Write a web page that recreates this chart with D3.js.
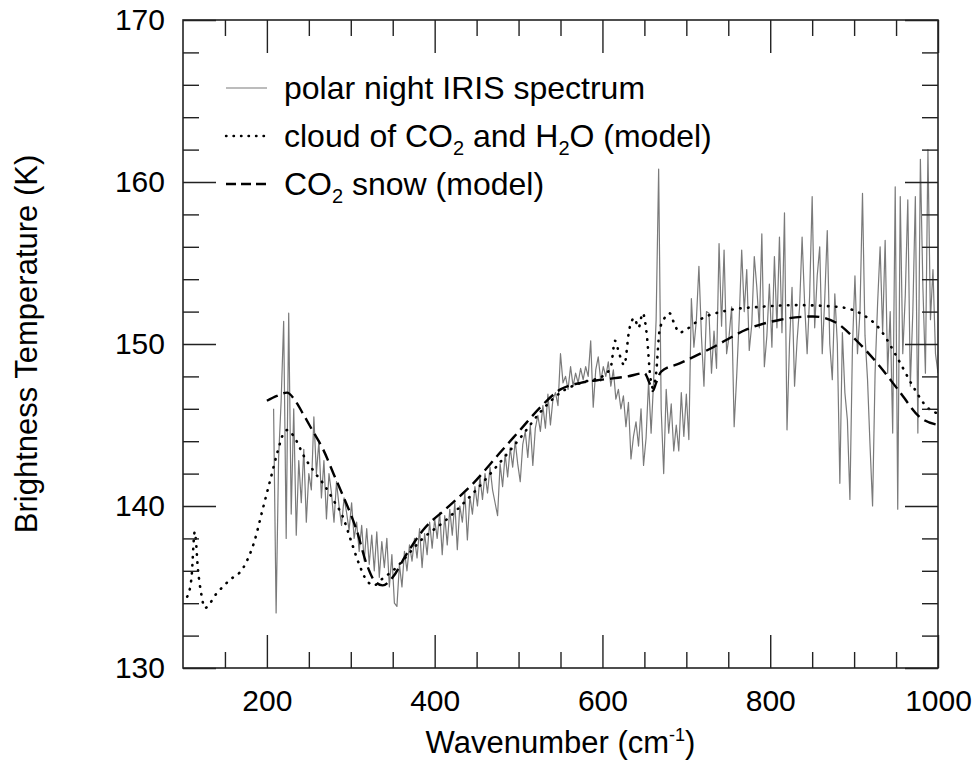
<!DOCTYPE html>
<html>
<head>
<meta charset="utf-8">
<script src="https://cdn.jsdelivr.net/npm/d3@7"></script>
<style>
  html, body { margin: 0; padding: 0; background: #fff; }
  svg text { font-family: "Liberation Sans", Arial, Helvetica, sans-serif; fill: #000; }
</style>
</head>
<body>
<svg id="chart" width="975" height="764"></svg>
<script>
// ---------------- DATA ----------------
// IRIS polar-night spectrum, sampled every 3 cm-1 from 208 to 1000 cm-1
const spectrumStart = 208;
const spectrumStep = 3;
const spectrumT = [
  146.0, 133.4, 143.0, 146.5, 151.4, 138.0, 151.9, 139.5, 146.0, 138.2,
  142.8, 140.2, 143.5, 139.0, 142.0, 141.0, 145.5, 142.0, 144.0, 140.5,
  142.8, 139.2, 142.0, 140.8, 139.0, 141.5, 140.0, 138.8, 140.5, 139.6,
  138.5, 140.2, 138.0, 139.0, 137.2, 138.8, 136.6, 138.6, 136.4, 138.2,
  136.0, 138.4, 135.6, 137.8, 136.2, 138.0, 135.0, 137.0, 134.0, 133.8,
  136.4, 135.0, 137.2, 136.0, 137.6, 136.6, 138.0, 136.8, 138.6, 136.2,
  138.3, 137.0, 139.0, 137.4, 139.2, 138.0, 139.6, 137.0, 139.4, 137.6,
  139.8, 138.2, 140.2, 137.3, 140.0, 139.0, 140.8, 137.9, 140.6, 139.5,
  141.2, 140.0, 141.8, 140.4, 142.0, 140.8, 142.4, 141.0, 140.2, 139.4,
  142.6, 141.2, 143.2, 141.8, 143.6, 142.4, 144.0, 142.6, 141.5, 143.8,
  144.6, 143.0, 145.0, 142.5, 144.8, 145.6, 144.6, 146.2, 144.8, 146.9,
  145.0, 146.6, 147.0, 146.2, 149.4, 147.6, 148.0, 147.2, 148.6, 147.4,
  148.2, 147.6, 148.5, 147.8, 148.6, 148.0, 150.2, 146.1, 148.4, 149.2,
  147.7, 148.6, 148.0, 148.9, 147.4, 148.4, 146.6, 147.2, 146.0, 146.8,
  144.9, 146.4, 142.9, 144.3, 145.2, 143.7, 146.0, 142.5, 144.2, 147.7,
  144.5, 147.7, 151.5, 160.8, 146.0, 142.0, 147.2, 144.5, 146.3, 143.4,
  145.0, 143.4, 147.0, 144.3, 146.9, 144.1, 152.8, 149.8, 151.5, 154.8,
  150.5, 147.4, 152.0, 151.9, 148.2, 150.8, 148.5, 156.2, 151.1, 155.8,
  149.4, 150.5, 152.3, 144.9, 148.0, 151.5, 155.8, 152.0, 154.6, 149.6,
  151.2, 155.4, 153.5, 151.0, 156.8, 148.6, 150.5, 153.7, 149.8, 155.4,
  151.0, 156.6, 150.7, 158.1, 144.7, 150.0, 153.5, 147.4, 150.2, 152.3,
  156.6, 152.5, 149.4, 153.0, 159.1, 151.0, 154.2, 156.0, 149.4, 152.8,
  157.0, 150.0, 147.8, 153.1, 150.0, 141.4, 150.7, 147.0, 145.3, 140.4,
  149.8, 154.2, 149.4, 152.0, 159.3, 150.5, 147.8, 143.7, 140.0, 148.2,
  152.5, 156.0, 150.7, 156.4, 148.2, 152.0, 144.5, 159.7, 139.8, 159.1,
  149.4, 153.0, 158.9, 147.4, 152.0, 159.1, 144.5, 161.4, 153.5, 148.2,
  162.0, 151.5, 154.6, 149.4, 148.2
];

// Cloud of CO2 and H2O (model)
const cloudWn = [105, 110, 114, 118, 122, 126, 140, 155, 172, 185, 195, 205, 213, 220, 225, 232, 245, 258, 267, 280, 290, 300, 310, 319, 328, 335, 350, 386, 415, 446, 478, 502, 526, 550, 574, 600, 610, 615, 620, 626, 632, 638, 643, 648, 653, 657, 660, 664, 668, 674, 680, 686, 692, 700, 716, 752, 790, 832, 879, 907, 931, 951, 970, 987, 1000];
const cloudT  = [134.4, 135.5, 138.4, 136.0, 134.5, 133.7, 134.6, 135.4, 136.2, 137.8, 139.8, 141.8, 143.4, 144.5, 144.7, 144.3, 143.0, 142.0, 141.4, 140.3, 139.4, 137.9, 136.4, 135.4, 135.1, 135.4, 136.0, 138.0, 139.2, 140.8, 142.7, 144.2, 145.8, 147.0, 147.6, 148.0, 148.6, 150.2, 149.4, 148.7, 150.9, 151.6, 151.0, 151.9, 150.5, 148.0, 147.3, 148.2, 150.8, 151.6, 151.9, 151.2, 150.7, 150.9, 151.5, 152.1, 152.3, 152.4, 152.3, 151.9, 150.9, 149.2, 147.4, 146.1, 145.7];

// CO2 snow (model)
const snowWn = [200, 212, 224, 235, 243, 255, 267, 281, 291, 307, 319, 328, 338, 350, 365, 386, 415, 446, 478, 502, 526, 550, 574, 600, 630, 650, 656, 660, 664, 670, 692, 732, 772, 812, 851, 879, 903, 931, 955, 978, 1000];
const snowT  = [146.5, 146.8, 147.0, 146.4, 145.7, 144.6, 143.5, 141.8, 140.6, 138.5, 136.4, 135.4, 135.1, 135.6, 136.9, 138.5, 139.9, 141.4, 143.3, 144.7, 146.1, 147.2, 147.6, 147.8, 148.0, 148.2, 147.6, 147.1, 147.6, 148.3, 148.8, 149.8, 150.9, 151.5, 151.7, 151.3, 150.2, 148.6, 147.0, 145.5, 145.0];

const xMajorTicks = [200, 400, 600, 800, 1000];
const xMinorTicks = [150, 250, 300, 350, 450, 500, 550, 650, 700, 750, 850, 900, 950];
const yMajorTicks = [130, 140, 150, 160, 170];
const yMinorTicks = [132, 134, 136, 138, 142, 144, 146, 148, 152, 154, 156, 158, 162, 164, 166, 168];

const legendLabels = [
  [{t: "polar night IRIS spectrum"}],
  [{t: "cloud of CO"}, {t: "2", sub: true}, {t: " and H"}, {t: "2", sub: true}, {t: "O (model)"}],
  [{t: "CO"}, {t: "2", sub: true}, {t: " snow (model)"}]
];

// ---------------- LAYOUT ----------------
const W = 975, H = 764;
const margin = {left: 183, right: 37, top: 20, bottom: 96};
const x = d3.scaleLinear().domain([100, 1000]).range([margin.left, W - margin.right]);
const y = d3.scaleLinear().domain([130, 170]).range([H - margin.bottom, margin.top]);

const svg = d3.select("#chart");
const axisColor = "#222";

svg.append("defs").append("clipPath").attr("id", "plotClip")
  .append("rect")
  .attr("x", x(100)).attr("y", y(170))
  .attr("width", x(1000) - x(100)).attr("height", y(130) - y(170));

const plot = svg.append("g").attr("clip-path", "url(#plotClip)");

// spectrum
const spectrum = spectrumT.map((t, i) => ({wn: spectrumStart + i * spectrumStep, t}));
const lineS = d3.line().x(d => x(d.wn)).y(d => y(d.t));
plot.append("path")
  .datum(spectrum)
  .attr("d", lineS)
  .attr("fill", "none")
  .attr("stroke", "#7a7a7a")
  .attr("stroke-width", 1.2)
  .attr("stroke-linejoin", "round");

// models
const lineM = d3.line().x(d => x(d[0])).y(d => y(d[1])).curve(d3.curveMonotoneX);
plot.append("path")
  .datum(cloudWn.map((w, i) => [w, cloudT[i]]))
  .attr("d", lineM)
  .attr("fill", "none")
  .attr("stroke", "#000")
  .attr("stroke-width", 2.6)
  .attr("stroke-linecap", "round")
  .attr("stroke-dasharray", "0.5,7.5");

plot.append("path")
  .datum(snowWn.map((w, i) => [w, snowT[i]]))
  .attr("d", lineM)
  .attr("fill", "none")
  .attr("stroke", "#000")
  .attr("stroke-width", 2.4)
  .attr("stroke-dasharray", "12,6");

// ---------------- AXES ----------------
function styleAxis(g) {
  g.select(".domain").remove();
  g.selectAll(".tick line").attr("stroke", axisColor).attr("stroke-width", 1.4);
  g.selectAll(".tick text").attr("font-size", 30).attr("fill", "#000")
    .attr("font-family", "'Liberation Sans', Arial, sans-serif");
}
const bottomY = y(130), topY = y(170), leftX = x(100), rightX = x(1000);

svg.append("g").attr("transform", `translate(0,${bottomY})`)
  .call(d3.axisBottom(x).tickValues(xMajorTicks).tickSize(-33).tickPadding(22).tickFormat(d3.format("d")))
  .call(styleAxis);
svg.append("g").attr("transform", `translate(0,${bottomY})`)
  .call(d3.axisBottom(x).tickValues(xMinorTicks).tickSize(-16).tickFormat(""))
  .call(styleAxis);
svg.append("g").attr("transform", `translate(0,${topY})`)
  .call(d3.axisTop(x).tickValues(xMajorTicks).tickSize(-33).tickFormat(""))
  .call(styleAxis);
svg.append("g").attr("transform", `translate(0,${topY})`)
  .call(d3.axisTop(x).tickValues(xMinorTicks).tickSize(-16).tickFormat(""))
  .call(styleAxis);

svg.append("g").attr("transform", `translate(${leftX},0)`)
  .call(d3.axisLeft(y).tickValues(yMajorTicks).tickSize(-33).tickPadding(18).tickFormat(d3.format("d")))
  .call(styleAxis);
svg.append("g").attr("transform", `translate(${leftX},0)`)
  .call(d3.axisLeft(y).tickValues(yMinorTicks).tickSize(-16).tickFormat(""))
  .call(styleAxis);
svg.append("g").attr("transform", `translate(${rightX},0)`)
  .call(d3.axisRight(y).tickValues(yMajorTicks).tickSize(-33).tickFormat(""))
  .call(styleAxis);
svg.append("g").attr("transform", `translate(${rightX},0)`)
  .call(d3.axisRight(y).tickValues(yMinorTicks).tickSize(-16).tickFormat(""))
  .call(styleAxis);

// frame
svg.append("rect")
  .attr("x", leftX).attr("y", topY)
  .attr("width", rightX - leftX).attr("height", bottomY - topY)
  .attr("fill", "none").attr("stroke", axisColor).attr("stroke-width", 1.6);

// axis titles
const xt = svg.append("text")
  .attr("x", (leftX + rightX) / 2).attr("y", 753)
  .attr("text-anchor", "middle").attr("font-size", 31);
xt.append("tspan").text("Wavenumber (cm");
xt.append("tspan").attr("dy", -12).attr("font-size", 18).text("-1");
xt.append("tspan").attr("dy", 12).text(")");

svg.append("text")
  .attr("transform", `translate(37,${(topY + bottomY) / 2}) rotate(-90)`)
  .attr("text-anchor", "middle").attr("font-size", 31)
  .text("Brightness Temperature (K)");

// ---------------- LEGEND ----------------
const legendRows = [88, 136, 184];
const legendStyles = [
  {stroke: "#7a7a7a", width: 1.2, dash: null, cap: "butt"},
  {stroke: "#000", width: 2.4, dash: "0.5,7", cap: "round"},
  {stroke: "#000", width: 2.4, dash: "10,5", cap: "butt"}
];
legendRows.forEach((ry, i) => {
  const st = legendStyles[i];
  const ln = svg.append("line")
    .attr("x1", 226).attr("x2", 267).attr("y1", ry).attr("y2", ry)
    .attr("stroke", st.stroke).attr("stroke-width", st.width)
    .attr("stroke-linecap", st.cap);
  if (st.dash) ln.attr("stroke-dasharray", st.dash);
  const t = svg.append("text").attr("x", 284).attr("y", ry + 11).attr("font-size", 32);
  let sub = false;
  legendLabels[i].forEach(part => {
    const ts = t.append("tspan").text(part.t);
    if (part.sub && !sub) { ts.attr("dy", 8).attr("font-size", 20); sub = true; }
    else if (!part.sub && sub) { ts.attr("dy", -8); sub = false; }
  });
});
</script>
</body>
</html>
